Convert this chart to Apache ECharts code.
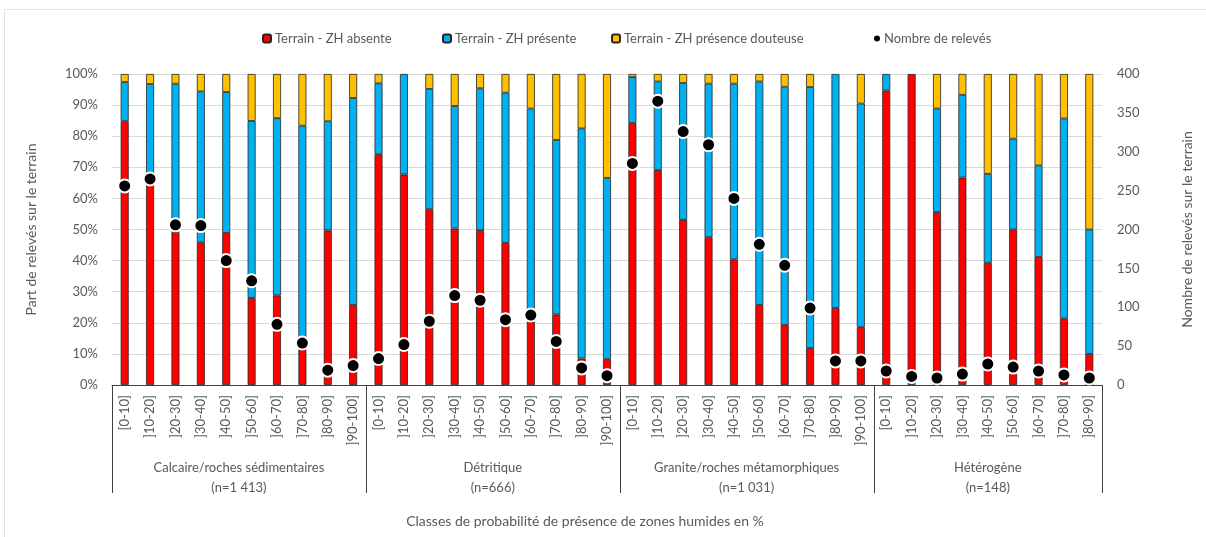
<!DOCTYPE html>
<html>
<head>
<meta charset="utf-8">
<script src="https://cdn.jsdelivr.net/npm/echarts@6/dist/echarts.min.js"></script>
<style>
  html, body { margin: 0; padding: 0; background: #fff; }
  #chart { width: 1206px; height: 537px; }
</style>
</head>
<body>
<div id="chart"></div>
<script>
// Geological groups and their probability classes
const groupNames = [
  'Calcaire/roches sédimentaires\n(n=1 413)',
  'Détritique\n(n=666)',
  'Granite/roches métamorphiques\n(n=1 031)',
  'Hétérogène\n(n=148)'
];
const classesCalcaire = ['[0-10]', ']10-20]', ']20-30]', ']30-40]', ']40-50]', ']50-60]', ']60-70]', ']70-80]', ']80-90]', ']90-100]'];
const classesDetritique = ['[0-10]', ']10-20]', ']20-30]', ']30-40]', ']40-50]', ']50-60]', ']60-70]', ']70-80]', ']80-90]', ']90-100]'];
const classesGranite = ['[0-10]', ']10-20]', ']20-30]', ']30-40]', ']40-50]', ']50-60]', ']60-70]', ']70-80]', ']80-90]', ']90-100]'];
const classesHeterogene = ['[0-10]', ']10-20]', ']20-30]', ']30-40]', ']40-50]', ']50-60]', ']60-70]', ']70-80]', ']80-90]'];

// Share of field surveys (%) per class
const absente = [
  84.8, 66.0, 49.2, 45.9, 48.9, 28.0, 28.8, 11.5, 49.7, 25.7,
  74.2, 67.7, 56.5, 50.3, 49.8, 45.7, 20.5, 22.7, 8.5, 8.3,
  84.2, 69.1, 53.1, 47.5, 40.4, 25.7, 19.3, 11.9, 24.8, 18.6,
  94.7, 100, 55.6, 66.7, 39.3, 50.0, 41.2, 21.4, 10.0
];
const presente = [
  12.6, 30.8, 47.7, 48.5, 45.3, 56.9, 57.0, 71.9, 35.1, 66.6,
  22.8, 32.3, 38.7, 39.4, 45.6, 48.3, 68.4, 56.1, 74.0, 58.3,
  14.8, 28.5, 44.0, 49.4, 56.5, 71.9, 76.6, 83.9, 75.2, 71.9,
  5.3, 0, 33.3, 26.6, 28.6, 29.2, 29.4, 64.3, 40.0
];
const douteuse = [
  2.6, 3.2, 3.1, 5.6, 5.8, 15.1, 14.2, 16.6, 15.2, 7.7,
  3.0, 0, 4.8, 10.3, 4.6, 6.0, 11.1, 21.2, 17.5, 33.4,
  1.0, 2.4, 2.9, 3.1, 3.1, 2.4, 4.1, 4.2, 0, 9.5,
  0, 0, 11.1, 6.7, 32.1, 20.8, 29.4, 14.3, 50.0
];
// Number of field surveys per class
const nombre = [
  256, 265, 206, 205, 160, 134, 78, 54, 19, 25,
  34, 52, 82, 115, 109, 84, 90, 56, 22, 12,
  285, 365, 326, 309, 240, 181, 154, 99, 31, 31,
  18, 11, 9, 14, 27, 23, 18, 13, 9
];
const leftTicks = [0, 10, 20, 30, 40, 50, 60, 70, 80, 90, 100];
const rightTicks = [0, 50, 100, 150, 200, 250, 300, 350, 400];

const groupClasses = [classesCalcaire, classesDetritique, classesGranite, classesHeterogene];
const categories = [].concat(...groupClasses);

const FONT = 'Lato, "Open Sans", sans-serif';
const GREY = '#595959';
const AXIS_DARK = '#404040';

const chart = echarts.init(document.getElementById('chart'), null, { renderer: 'canvas' });

// empty segments are left out so no zero-height outline is drawn
const segment = arr => arr.map(v => (v === 0 ? null : v));
const barStyle = color => ({ color: color, borderColor: '#262626', borderWidth: 0.8 });
const legendBase = {
  top: 27, itemWidth: 8, itemHeight: 8, itemGap: 0,
  textStyle: { color: GREY, fontSize: 13, fontFamily: FONT, padding: [0, 0, 0, -1] },
  selectedMode: false
};

chart.setOption({
  animation: false,
  textStyle: { fontFamily: FONT },
  legend: [
    Object.assign({}, legendBase, { left: 257, data: ['Terrain - ZH absente'] }),
    Object.assign({}, legendBase, { left: 437, data: ['Terrain - ZH présente'] }),
    Object.assign({}, legendBase, { left: 606, data: ['Terrain - ZH présence douteuse'] }),
    Object.assign({}, legendBase, { left: 869, itemWidth: 6, itemHeight: 6, data: [{ name: 'Nombre de relevés', icon: 'circle', itemStyle: { borderWidth: 0, opacity: 1 } }] })
  ],
  grid: { left: 112, right: 104, top: 74, bottom: 152 },
  xAxis: {
    type: 'category',
    data: categories,
    axisLine: { show: true, lineStyle: { color: AXIS_DARK, width: 1 } },
    axisTick: { show: false },
    axisLabel: {
      interval: 0, rotate: 90, margin: 10,
      color: GREY, fontSize: 13, fontFamily: FONT
    }
  },
  yAxis: [
    {
      type: 'value', min: 0, max: 100, interval: 10,
      name: 'Part de relevés sur le terrain',
      nameLocation: 'middle', nameGap: 74, nameRotate: 90,
      nameTextStyle: { color: GREY, fontSize: 14, fontFamily: FONT },
      axisLine: { show: false }, axisTick: { show: false },
      axisLabel: { color: GREY, fontSize: 13, fontFamily: FONT, margin: 14, formatter: v => leftTicks.includes(v) ? v + '%' : '' },
      splitLine: { show: true, lineStyle: { color: '#d9d9d9', width: 1 } }
    },
    {
      type: 'value', min: 0, max: 400, interval: 50,
      name: 'Nombre de relevés sur le terrain',
      nameLocation: 'middle', nameGap: 78, nameRotate: 90,
      nameTextStyle: { color: GREY, fontSize: 14, fontFamily: FONT },
      axisLine: { show: false }, axisTick: { show: false },
      axisLabel: { color: GREY, fontSize: 13, fontFamily: FONT, margin: 15, formatter: v => rightTicks.includes(v) ? String(v) : '' },
      splitLine: { show: false }
    }
  ],
  series: [
    { name: 'Terrain - ZH absente', type: 'bar', stack: 'part', barWidth: 8, data: segment(absente), itemStyle: barStyle('#ff0000') },
    { name: 'Terrain - ZH présente', type: 'bar', stack: 'part', barWidth: 8, data: segment(presente), itemStyle: barStyle('#00b0f0') },
    { name: 'Terrain - ZH présence douteuse', type: 'bar', stack: 'part', barWidth: 8, data: segment(douteuse), itemStyle: barStyle('#ffc000') },
    {
      name: 'Nombre de relevés', type: 'scatter', yAxisIndex: 1, data: nombre, z: 5,
      symbol: 'circle', symbolSize: 13,
      itemStyle: { color: '#000', borderColor: '#fff', borderWidth: 2, opacity: 1 }
    }
  ]
});

// Group separators and group captions under the class labels
function drawGroups() {
  const px = i => chart.convertToPixel({ xAxisIndex: 0 }, i);
  const step = px(1) - px(0);
  const yAxisLine = chart.convertToPixel({ yAxisIndex: 0 }, 0);
  const elements = [];
  let start = 0;
  const bounds = [];
  groupClasses.forEach((cls, g) => {
    const left = px(start) - step / 2;
    const right = px(start + cls.length - 1) + step / 2;
    bounds.push(left);
    if (g === groupClasses.length - 1) bounds.push(right);
    elements.push({
      type: 'text',
      style: {
        text: groupNames[g], x: (left + right) / 2, y: 458,
        align: 'center', verticalAlign: 'top',
        fill: GREY, fontSize: 13, lineHeight: 20, fontFamily: FONT
      }
    });
    start += cls.length;
  });
  bounds.forEach(b => {
    const x = Math.round(b) + 0.5;
    elements.push({
      type: 'line',
      shape: { x1: x, y1: yAxisLine, x2: x, y2: 493 },
      style: { stroke: AXIS_DARK, lineWidth: 1 }
    });
  });
  elements.push({
    type: 'text',
    style: {
      text: 'Classes de probabilité de présence de zones humides en %',
      x: 585, y: 514, align: 'center', verticalAlign: 'top',
      fill: GREY, fontSize: 14, fontFamily: FONT
    }
  });
  // outer chart frame
  elements.push({
    type: 'rect', silent: true, z: -1,
    shape: { x: 4.5, y: 9.5, width: 1400, height: 800 },
    style: { fill: null, stroke: '#e3e3e3', lineWidth: 1 }
  });
  chart.setOption({ graphic: elements });
}
drawGroups();
</script>
</body>
</html>
